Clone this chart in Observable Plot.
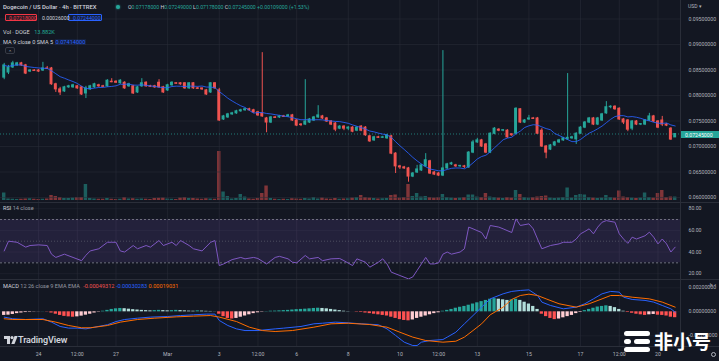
<!DOCTYPE html>
<html><head><meta charset="utf-8">
<script src="https://cdn.jsdelivr.net/npm/d3@7"></script>
<script src="https://cdn.jsdelivr.net/npm/@observablehq/plot@0.6"></script>
<style>
html,body{margin:0;padding:0;background:#131722;}
#wrap{position:relative;width:719px;height:361px;overflow:hidden;background:#131722;font-family:Roboto,"Liberation Sans",sans-serif;}
.t{position:absolute;white-space:nowrap;font-size:5.6px;line-height:6px;color:#d1d4dc;}
.g{color:#26a69a}
.m{color:#9598a1}
</style></head><body><div id="wrap"></div>
<script>
// ---- 4h candles, Feb 22 16:00 -> Mar 20 16:00 (index 0..156)
const opens = [.0835,.0845,.0855,.0859,.0863,.0859,.0847,.0849,.0849,.0849,
 .0853,.0853,.0822,.0812,.0808,.0816,.0816,.0818,.0816,.0804,
 .0812,.0816,.0820,.0818,.0818,.0827,.0827,.0824,.0825,.0818,
 .0818,.0806,.0818,.0825,.0818,.0818,.0825,.0816,.0810,.0820,
 .0824,.0824,.0824,.0814,.0824,.0814,.0814,.0810,.0806,.0824,
 .0810,.0753,.0757,.0763,.0765,.0769,.0771,.0773,.0771,.0767,
 .0765,.0755,.0747,.0757,.0757,.0759,.0759,.0761,.0751,.0743,
 .0743,.0747,.0751,.0757,.0759,.0755,.0749,.0745,.0735,.0739,
 .0735,.0737,.0731,.0739,.0737,.0720,.0712,.0718,.0717,.0716,
 .0720,.0686,.0661,.0659,.0657,.0641,.0649,.0653,.0661,.0671,
 .0649,.0647,.0643,.0657,.0665,.0663,.0661,.0661,.0659,.0688,
 .0708,.0712,.0704,.0688,.0725,.0733,.0731,.0731,.0724,.0725,
 .0773,.0747,.0753,.0755,.0755,.0731,.0700,.0694,.0702,.0708,
 .0712,.0714,.0716,.0714,.0725,.0737,.0747,.0755,.0743,.0751,
 .0765,.0777,.0778,.0774,.0753,.0751,.0735,.0749,.0743,.0743,
 .0751,.0759,.0749,.0751,.0743,.0735,.07178];
const highs = [.0863,.0859,.0867,.0865,.0865,.0861,.0851,.0851,.0851,.0865,
 .0857,.0855,.0824,.0816,.0818,.0820,.0822,.0820,.0818,.0818,
 .0820,.0824,.0822,.0820,.0831,.0833,.0829,.0831,.0827,.0824,
 .0820,.0818,.0833,.0827,.0820,.0820,.0831,.0818,.0822,.0827,
 .0825,.0825,.0825,.0825,.0825,.0816,.0814,.0812,.0825,.0825,
 .0814,.0761,.0765,.0767,.0771,.0773,.0775,.0775,.0773,.0769,
 .0884,.0757,.0759,.0759,.0761,.0761,.0763,.0763,.0753,.0745,
 .0831,.0755,.0759,.0780,.0761,.0757,.0751,.0747,.0741,.0741,
 .0739,.0739,.0739,.0741,.0739,.0722,.0720,.0720,.0720,.0724,
 .0722,.0688,.0663,.0661,.0659,.0649,.0663,.0665,.0686,.0673,
 .0651,.0649,.0888,.0667,.0669,.0665,.0663,.0663,.0690,.0712,
 .0716,.0714,.0706,.0727,.0737,.0735,.0733,.0733,.0725,.0776,
 .0774,.0753,.0761,.0757,.0757,.0735,.0702,.0704,.0710,.0714,
 .0718,.0843,.0720,.0727,.0739,.0749,.0757,.0757,.0757,.0765,
 .0788,.0780,.0780,.0776,.0755,.0753,.0751,.0751,.0745,.0753,
 .0765,.0761,.0751,.0759,.0745,.0737,.07249];
const lows = [.0831,.0841,.0853,.0857,.0857,.0841,.0845,.0847,.0845,.0847,
 .0851,.0820,.0806,.0800,.0806,.0814,.0814,.0812,.0800,.0794,
 .0810,.0814,.0816,.0816,.0816,.0825,.0824,.0822,.0812,.0816,
 .0802,.0804,.0816,.0816,.0816,.0814,.0814,.0804,.0808,.0818,
 .0822,.0820,.0812,.0812,.0812,.0812,.0810,.0800,.0804,.0812,
 .0749,.0751,.0755,.0761,.0763,.0767,.0769,.0769,.0765,.0759,
 .0757,.0727,.0745,.0755,.0755,.0757,.0757,.0749,.0739,.0739,
 .0741,.0745,.0749,.0755,.0753,.0747,.0741,.0729,.0733,.0731,
 .0731,.0727,.0729,.0729,.0720,.0708,.0710,.0716,.0716,.0714,
 .0684,.0647,.0655,.0655,.0630,.0639,.0647,.0651,.0659,.0645,
 .0643,.0641,.0641,.0655,.0663,.0659,.0659,.0657,.0657,.0686,
 .0706,.0698,.0686,.0686,.0723,.0729,.0729,.0716,.0720,.0723,
 .0745,.0745,.0751,.0753,.0724,.0698,.0676,.0692,.0700,.0706,
 .0710,.0712,.0714,.0704,.0724,.0735,.0745,.0741,.0741,.0749,
 .0763,.0774,.0771,.0751,.0743,.0729,.0731,.0741,.0741,.0741,
 .0749,.0747,.0735,.0739,.0739,.0712,.07178];
const closes = [.0859,.0855,.0863,.0863,.0859,.0843,.0849,.0848,.0847,.0853,
 .0852,.0822,.0812,.0806,.0816,.0818,.0820,.0814,.0802,.0814,
 .0818,.0822,.0818,.0817,.0829,.0826,.0825,.0829,.0814,.0822,
 .0804,.0816,.0824,.0818,.0817,.0816,.0816,.0806,.0820,.0825,
 .0823,.0822,.0814,.0824,.0814,.0813,.0812,.0802,.0824,.0814,
 .0751,.0759,.0763,.0765,.0769,.0771,.0773,.0771,.0767,.0761,
 .0759,.0747,.0757,.0756,.0759,.0758,.0761,.0751,.0741,.0742,
 .0749,.0753,.0757,.0761,.0755,.0749,.0743,.0733,.0739,.0735,
 .0737,.0729,.0737,.0731,.0722,.0710,.0718,.0717,.0718,.0722,
 .0686,.0661,.0659,.0657,.0641,.0647,.0655,.0663,.0673,.0647,
 .0645,.0643,.0657,.0665,.0667,.0661,.0662,.0660,.0688,.0708,
 .0712,.0700,.0688,.0725,.0735,.0731,.0732,.0718,.0722,.0774,
 .0747,.0751,.0755,.0754,.0725,.0700,.0688,.0702,.0708,.0712,
 .0716,.0717,.0718,.0725,.0737,.0747,.0755,.0743,.0755,.0763,
 .0777,.0778,.0773,.0753,.0747,.0733,.0749,.0743,.0744,.0751,
 .0759,.0749,.0737,.0743,.0741,.07136,.07245];
// volume in thousands of DOGE
const volumes = [30,
 6,5,4,5,6,7,5,4,5,6,
 20,16,12,8,8,10,12,12,64,8,
 6,5,5,8,5,4,5,12,6,7,
 5,6,5,4,8,9,10,6,5,4,
 10,12,8,8,6,5,7,6,5,
 196,34,16,6,8,24,14,6,5,8,
 28,58,8,5,4,5,4,7,6,5,
 8,6,12,6,10,6,5,8,5,6,
 7,10,12,20,12,10,8,6,7,8,
 20,22,10,12,64,16,28,14,16,12,
 10,12,24,12,10,8,10,12,22,22,
 14,12,28,14,12,10,8,12,10,40,
 24,12,10,12,14,16,18,10,8,10,
 12,50,10,20,24,22,12,10,8,10,
 20,12,10,38,14,12,10,8,10,30,
 12,10,28,40,12,14,13.882];

// RSI 14 (candle index -> value)
const rsiAt = [0,1,3,5,6,8,10,11,12,14,
 16,18,19,20,22,24,25,26,27,28,
 30,31,33,34,36,37,39,40,41,43,
 44,46,48,49,50,51,53,55,56,58,
 59,61,63,64,66,67,68,70,71,73,
 74,76,78,79,81,82,84,85,87,88,
 89,90,92,94,95,96,97,98,99,100,
 101,102,103,104,106,107,108,109,111,112,
 113,115,116,118,119,120,122,123,124,125,
 127,129,130,132,133,134,135,136,137,138,
 139,140,142,143,144,145,146,147,149,150,
 151,152,153,154,155,156];
const rsiVals = [41,50,49,44.5,46,46.6,46,38,35,38,
 35,32,37,41,43,49,49,49,41,40,
 46,43,46,44.5,50.6,46,49,46,50.6,46,
 43,41,49,50.6,27.5,29,33,35,33.7,35,
 34,29,35,36,33.7,30.6,30,36.8,33.7,35,
 32,33.7,34,32,27.5,33.7,30.6,26,30.6,33.7,
 29,21.4,18.3,15.2,17,23,29,35,29,29,
 30,38,40,38,40,43,63,61.4,58,52,
 64.5,63,61.4,58,70.6,64.5,66,61.4,52,43,
 46,47.5,49,49,52,56.8,59,61.4,56.8,63,
 67.5,69,67.5,56.8,52,48,53.7,52,55,58.3,
 53.7,47.5,52,47.5,40,44.5];
const rsiUpper = 70, rsiMid = 50, rsiLower = 30;

// MACD 12 26 9
const macdAt = [0,2,5,9,11,13,15,17,19,21,
 24,26,28,31,34,38,41,44,47,49,
 50,52,54,56,59,63,65,69,72,74,
 77,80,83,87,89,91,93,95,96,97,
 99,102,103,105,107,109,111,113,116,118,
 120,122,124,125,127,130,133,135,137,139,
 141,143,144,146,149,151,153,155,156];
const macdVals = [-44e-5,-58e-5,-64e-5,-58e-5,-86e-5,-122e-5,-136e-5,-136e-5,-142e-5,-128e-5,
 -108e-5,-81e-5,-64e-5,-53e-5,-44e-5,-39e-5,-31e-5,-25e-5,-19e-5,-19e-5,
 -72e-5,-114e-5,-142e-5,-156e-5,-156e-5,-142e-5,-136e-5,-122e-5,-100e-5,-95e-5,
 -86e-5,-92e-5,-100e-5,-108e-5,-142e-5,-197e-5,-253e-5,-281e-5,-281e-5,-253e-5,
 -239e-5,-231e-5,-211e-5,-170e-5,-100e-5,-31e-5,39e-5,108e-5,150e-5,170e-5,
 178e-5,183e-5,136e-5,81e-5,53e-5,25e-5,39e-5,67e-5,108e-5,150e-5,
 170e-5,164e-5,122e-5,103e-5,95e-5,81e-5,53e-5,25e-5,-3e-5];
const signalAt = [0,2,5,9,12,15,18,20,24,27,
 31,35,40,44,48,50,54,57,60,63,
 67,72,76,80,85,89,92,95,98,102,
 105,107,109,111,113,116,118,120,122,124,
 126,129,133,136,139,141,143,146,150,153,
 156];
const signalVals = [-58e-5,-64e-5,-64e-5,-64e-5,-86e-5,-114e-5,-133e-5,-133e-5,-114e-5,-86e-5,
 -64e-5,-53e-5,-42e-5,-36e-5,-31e-5,-44e-5,-81e-5,-128e-5,-156e-5,-164e-5,
 -156e-5,-128e-5,-100e-5,-95e-5,-106e-5,-128e-5,-170e-5,-211e-5,-239e-5,-253e-5,
 -245e-5,-211e-5,-156e-5,-100e-5,-25e-5,39e-5,103e-5,136e-5,147e-5,136e-5,
 108e-5,67e-5,39e-5,67e-5,108e-5,136e-5,136e-5,122e-5,108e-5,81e-5,
 39e-5];
const macdHist = [-30e-5,-28e-5,-22e-5,-15e-5,-10e-5,-6e-5,-4e-5,-2e-5,-1e-5,1e-5,
 -2e-5,-10e-5,-20e-5,-30e-5,-38e-5,-42e-5,-45e-5,-42e-5,-36e-5,-28e-5,
 -20e-5,-10e-5,-3e-5,5e-5,12e-5,20e-5,25e-5,28e-5,26e-5,22e-5,
 18e-5,15e-5,12e-5,10e-5,8e-5,10e-5,12e-5,10e-5,8e-5,10e-5,
 12e-5,10e-5,8e-5,6e-5,5e-5,8e-5,6e-5,4e-5,3e-5,1e-5,
 -20e-5,-40e-5,-55e-5,-60e-5,-55e-5,-45e-5,-35e-5,-25e-5,-15e-5,-8e-5,
 -3e-5,2e-5,5e-5,6e-5,8e-5,10e-5,12e-5,15e-5,18e-5,20e-5,
 22e-5,25e-5,28e-5,30e-5,28e-5,25e-5,20e-5,15e-5,10e-5,5e-5,
 2e-5,0,-3e-5,-5e-5,-10e-5,-15e-5,-20e-5,-25e-5,-30e-5,-35e-5,
 -45e-5,-55e-5,-65e-5,-72e-5,-75e-5,-68e-5,-55e-5,-45e-5,-35e-5,-25e-5,
 -15e-5,-8e-5,5e-5,12e-5,20e-5,30e-5,38e-5,45e-5,55e-5,65e-5,
 75e-5,85e-5,95e-5,105e-5,110e-5,105e-5,100e-5,95e-5,100e-5,105e-5,
 95e-5,80e-5,65e-5,45e-5,20e-5,-20e-5,-40e-5,-55e-5,-65e-5,-60e-5,
 -50e-5,-40e-5,-30e-5,-15e-5,-5e-5,10e-5,20e-5,30e-5,40e-5,45e-5,
 50e-5,45e-5,35e-5,20e-5,5e-5,-5e-5,-12e-5,-20e-5,-25e-5,-30e-5,
 -25e-5,-22e-5,-28e-5,-30e-5,-35e-5,-45e-5,-49e-5];

// axes
const priceTicks = [0.06,0.065,0.07,0.075,0.08,0.085,0.09,0.095];
const rsiTicks = [20,40,60,80];
const macdTicks = [-0.002,0,0.002];
const timeTickIdx = [8,17,26,38,50,59,68,80,92,101,110,122,134,143,152];
const timeTickLabels = ["24","12:00","27","Mar","3","12:00","6","8","10","12:00","13","15","17","12:00","20"];

// ---------- build ----------
const UP = "#26a69a", DN = "#ef5350", GRID = "#2a2e39", AX = "#b2b5be";
const FONT = "Roboto, 'Liberation Sans', sans-serif";
const bars = closes.map((c, i) => ({i, o: opens[i], h: highs[i], l: lows[i], c, v: volumes[i], col: c >= opens[i] ? UP : DN}));
const xDomain = [-0.86, 157.24];
const base = {width: 719, marginLeft: 0, marginRight: 39, color: {type: "identity"},
  style: {background: "transparent", fontFamily: FONT, color: AX, overflow: "visible"}};
const wrap = document.getElementById("wrap");
function layer(svg, top, z) { svg.style.position = "absolute"; svg.style.left = "0px"; svg.style.top = top + "px"; svg.style.zIndex = z; wrap.appendChild(svg); }
function text(html, left, top, css = "") { const d = document.createElement("div"); d.className = "t"; d.style.left = left + "px"; d.style.top = top + "px"; d.style.cssText += css; d.innerHTML = html; wrap.appendChild(d); return d; }
function box(left, top, w, h, css) { const d = document.createElement("div"); d.style.cssText = `position:absolute;left:${left}px;top:${top}px;width:${w}px;height:${h}px;` + css; wrap.appendChild(d); return d; }

// volume layer (under price)
layer(Plot.plot({...base, height: 203, marginTop: 0, marginBottom: 3,
  x: {domain: xDomain, axis: null}, y: {domain: [0, 800], axis: null},
  marks: [
    Plot.rect(bars, {x1: d => d.i - 0.4, x2: d => d.i + 0.4, y1: 0, y2: "v", fill: "col", fillOpacity: 0.5})
  ]}), 0, 1);

// price layer
const lastClose = closes[closes.length - 1];
layer(Plot.plot({...base, height: 203, marginTop: 0, marginBottom: 1,
  x: {domain: xDomain, axis: null}, y: {domain: [0.059019, 0.098627], axis: null},
  marks: [
    Plot.ruleY(priceTicks, {stroke: GRID, strokeOpacity: 0.55}),
    Plot.ruleX(timeTickIdx, {stroke: GRID, strokeOpacity: 0.55}),
    Plot.ruleY([lastClose], {stroke: UP, strokeDasharray: "1,2", strokeOpacity: 0.7}),
    Plot.ruleX(bars, {x: "i", y1: "l", y2: "h", stroke: "col", strokeWidth: 1}),
    Plot.rect(bars, {x1: d => d.i - 0.34, x2: d => d.i + 0.34, y1: "o", y2: "c", fill: "col", insetTop: -0.5, insetBottom: -0.5}),
    Plot.lineY(bars, Plot.windowY({k: 9, anchor: "end", reduce: "mean"}, {x: "i", y: "c", stroke: "#2962ff", strokeWidth: 1, strokeOpacity: 0.85})),
    Plot.axisY({anchor: "right", ticks: priceTicks, tickFormat: d => d.toFixed(8), tickSize: 0, tickPadding: 8, fontSize: 5.2, fill: AX})
  ]}), 0, 2);

// RSI pane
const rsiBand = [{lo: rsiLower, hi: rsiUpper}];
layer(Plot.plot({...base, height: 77, marginTop: 0, marginBottom: 0,
  x: {domain: xDomain, axis: null}, y: {domain: [13.7, 84.8], axis: null},
  marks: [
    Plot.ruleX(timeTickIdx, {stroke: GRID, strokeOpacity: 0.55}),
    Plot.ruleY(rsiTicks, {stroke: GRID, strokeOpacity: 0.4}),
    Plot.rect(rsiBand, {x1: () => xDomain[0], x2: () => xDomain[1], y1: "lo", y2: "hi", fill: "#7e57c2", fillOpacity: 0.16}),
    Plot.ruleY([rsiUpper, rsiLower], {stroke: "#787b86", strokeDasharray: "2,2", strokeOpacity: 0.9}),
    Plot.ruleY([rsiMid], {stroke: "#787b86", strokeDasharray: "1,2", strokeOpacity: 0.5}),
    Plot.lineY(rsiVals, {x: rsiAt, stroke: "#7e57c2", strokeWidth: 1}),
    Plot.axisY({anchor: "right", ticks: rsiTicks, tickFormat: d => d.toFixed(2), tickSize: 0, tickPadding: 8, fontSize: 5.2, fill: AX})
  ]}), 203, 2);

// MACD pane + time axis
const histData = macdHist.map((h, i) => {
  const p = i > 0 ? macdHist[i - 1] : h;
  return {i, h, col: h >= 0 ? (h >= p ? "#26a69a" : "#b2dfdb") : (h < p ? "#ff5252" : "#ffcdd2")};
});
const tickLabel = new Map(timeTickIdx.map((d, k) => [d, timeTickLabels[k]]));
layer(Plot.plot({...base, height: 81, marginTop: 0, marginBottom: 15,
  x: {domain: xDomain, axis: null}, y: {domain: [-0.00289, 0.00261], axis: null},
  marks: [
    Plot.ruleX(timeTickIdx, {stroke: GRID, strokeOpacity: 0.55}),
    Plot.ruleY(macdTicks, {stroke: GRID, strokeOpacity: 0.4}),
    Plot.rect(histData, {x1: d => d.i - 0.38, x2: d => d.i + 0.38, y1: 0, y2: "h", fill: "col"}),
    Plot.lineY(macdVals, {x: macdAt, stroke: "#2962ff", strokeWidth: 1}),
    Plot.lineY(signalVals, {x: signalAt, stroke: "#ff6d00", strokeWidth: 1}),
    Plot.axisY({anchor: "right", ticks: macdTicks, tickFormat: d => d.toFixed(8), tickSize: 0, tickPadding: 8, fontSize: 5.2, fill: AX}),
    Plot.axisX({ticks: timeTickIdx, tickFormat: d => tickLabel.get(d), tickSize: 0, tickPadding: 6, fontSize: 5.2, fill: AX})
  ]}), 280, 2);

// separators
box(0, 202, 719, 1, `background:${GRID};z-index:3`);
box(0, 279, 719, 1, `background:${GRID};z-index:3`);
box(0, 346, 719, 1, `background:${GRID};z-index:3`);
box(680, 0, 1, 346, `background:${GRID};z-index:3`);

// header legend
const f8 = v => v.toFixed(8);
text(`<span style="font-weight:500;font-size:5.9px">Dogecoin / US Dollar · 4h · BITTREX</span>`, 3, 4, "z-index:5");
box(116, 5, 4, 4, `border-radius:50%;background:${UP};box-shadow:0 0 2px ${UP};z-index:5`);
text(`O<span class="g">${f8(opens[156])}</span> H<span class="g">${f8(highs[156])}</span> L<span class="g">${f8(lows[156])}</span> C<span class="g">${f8(closes[156])}</span> <span class="g">+0.00109000 (+1.53%)</span>`, 128, 4.2, "font-size:5.2px;z-index:5");
box(5, 14, 32, 7, "border:1px solid #f23645;border-radius:1px;box-sizing:border-box;z-index:5;background:rgba(242,54,69,0.08)");
text("0.07218000", 9, 15.2, "color:#f23645;font-size:5.2px;z-index:6");
text("0.00026000", 42, 15.2, "font-size:5.2px;z-index:6");
box(68, 14, 34, 7, "border:1px solid #2962ff;border-radius:1px;box-sizing:border-box;z-index:5;background:rgba(41,98,255,0.08)");
text("0.07244000", 73, 15.2, "color:#2962ff;font-size:5.2px;z-index:6");
text(`Vol · DOGE <span style="color:#22ab94;margin-left:3px">13.882K</span>`, 3, 29, "z-index:5");
text(`MA 9 close 0 SMA 5 <span style="color:#2962ff;background:rgba(41,98,255,0.12);padding:0 1px">0.07414000</span>`, 3, 39, "z-index:5");
box(5, 47, 10, 7, "border:1px solid #363a45;border-radius:2px;box-sizing:border-box;z-index:5");
text("⌃", 8.2, 48.5, "font-size:5px;color:#b2b5be;z-index:6");
text("USD ▾", 688, 3, "font-size:5px;color:#b2b5be;z-index:5");
box(681, 131, 38, 7, `background:${UP};z-index:5`);
text(f8(lastClose), 685, 131.8, "font-size:5.2px;color:#fff;z-index:6");

// pane legends
text(`RSI <span class="m">14 close</span>`, 3, 205, "z-index:5");
text(`MACD <span class="m">12 26 close 9 EMA EMA</span> <span style="color:#ef5350;margin-left:2px">-0.00049312</span> <span style="color:#2962ff">-0.00030283</span> <span style="color:#ff6d00">0.00019031</span>`, 3, 283, "z-index:5");

// TradingView logo
const logo = document.createElementNS("http://www.w3.org/2000/svg", "svg");
logo.setAttribute("width", "14"); logo.setAttribute("height", "8");
logo.style.cssText = "position:absolute;left:4px;top:336px;z-index:5";
logo.innerHTML = '<path d="M0 0h6v8H3V3H0z" fill="#d1d4dc"/><circle cx="8" cy="1.6" r="1.6" fill="#d1d4dc"/><path d="M10.5 0h3.2l-3.2 8H7.3z" fill="#d1d4dc"/>';
wrap.appendChild(logo);
text("TradingView", 18, 335, "font-size:9px;line-height:10px;font-weight:600;color:#d1d4dc;letter-spacing:-0.1px;z-index:5");

// 非小号 watermark
box(624, 331, 26, 5, "background:#fff;border-radius:2.5px;z-index:7");
box(624, 339, 7, 5, "background:#fff;border-radius:2.5px;z-index:7");
box(634, 339, 16, 5, "background:#fff;border-radius:2.5px;z-index:7");
box(624, 347, 26, 5, "background:#fff;border-radius:2.5px;z-index:7");
text("非小号", 654, 331, "font-family:'Noto Sans CJK SC',sans-serif;font-size:19px;line-height:19px;font-weight:700;color:#fff;z-index:7");
box(711, 352, 5, 5, "border:1px solid #b2b5be;border-radius:50%;box-sizing:border-box;z-index:5");
</script>
</body></html>
